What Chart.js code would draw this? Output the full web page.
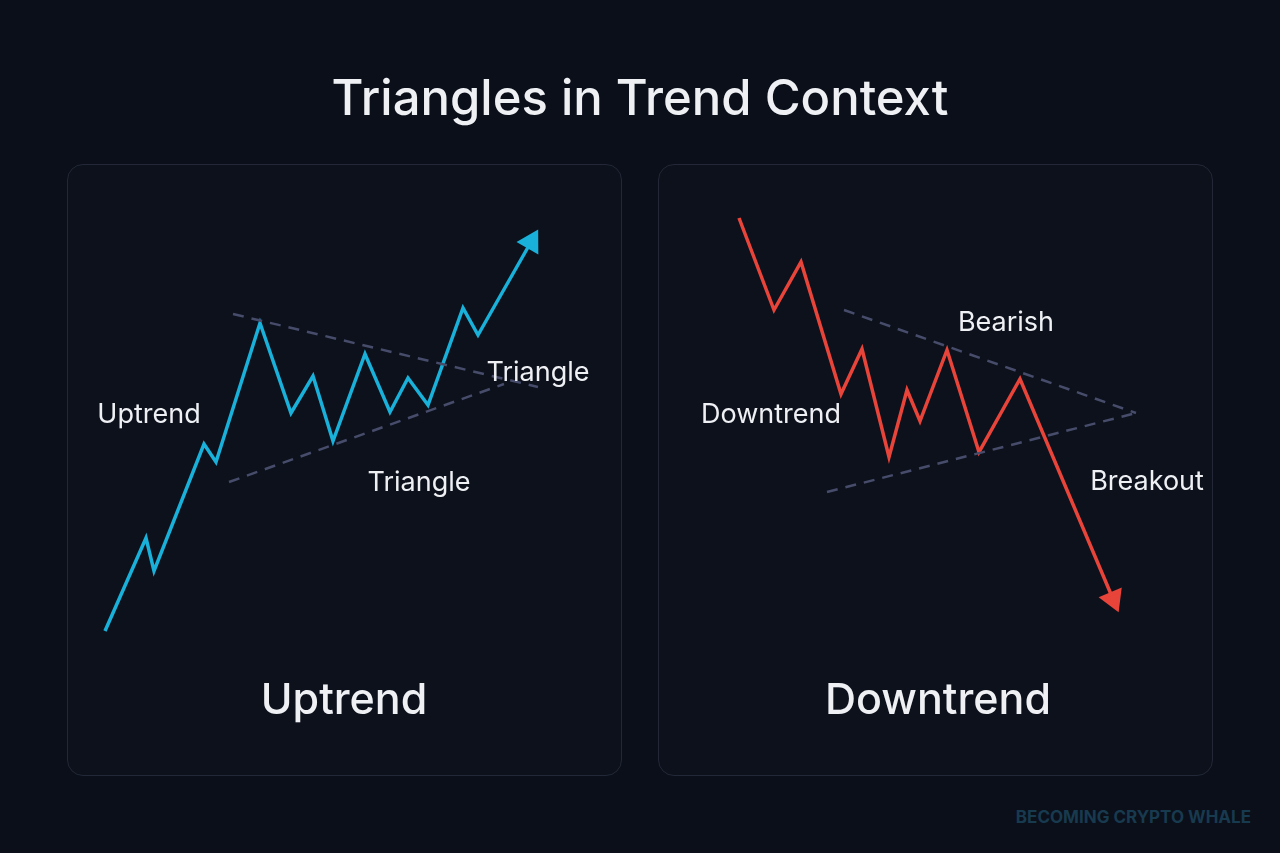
<!DOCTYPE html>
<html><head><meta charset="utf-8">
<script src="https://cdn.jsdelivr.net/npm/chart.js@4"></script>
<style>
body{margin:0;width:1280px;height:853px;background:#0b0f1a;font-family:Inter,"Noto Sans",sans-serif;position:relative;overflow:hidden}
h1{position:absolute;top:68px;left:0;width:1280px;text-align:center;margin:0;color:#eef0f4;font-size:49px;font-weight:500}
.panel{position:absolute;top:164px;width:555px;height:612px;border:1.5px solid #222837;border-radius:16px;box-sizing:border-box;background:#0c111c}
.panel canvas{position:absolute;left:0;top:0}
.wm{position:absolute;right:29px;top:807px;color:#183a4f;font-weight:700;font-size:17px}
</style></head><body>
<h1>Triangles in Trend Context</h1>
<div class="panel" style="left:67px"><canvas id="up" width="555" height="612"></canvas></div>
<div class="panel" style="left:658px"><canvas id="down" width="555" height="612"></canvas></div>
<div class="wm">BECOMING CRYPTO WHALE</div>
<script>
// panel units: x from panel left, y up from panel bottom
const upPrice = [[37,146],[78,239],[86,206],[136,333],[148,315],[192,454],[223,364],[245,401],[265,336],[297,423],[322,365],[340,399],[360,372],[395,469],[410,442],[463,535]];
const upUpper = [[165,463],[470,390]];
const upLower = [[161,295],[436,393]];
const upLabels = [["Uptrend",81,362,27],["Triangle",470,404,27],["Triangle",351,294,27],["Uptrend",276,76,43]];

const downPrice = [[80,559],[115,467],[142,515],[182,383],[203,428],[230,320],[248,387],[261,356],[288,427],[320,325],[361,398],[454,178]];
const downUpper = [[185,467],[477,364]];
const downLower = [[168,285],[477,364]];
const downLabels = [["Bearish",347,454,27],["Downtrend",112,362,27],["Breakout",488,295,27],["Downtrend",279,76,43]];

const labelPlugin = {
  id: 'labels',
  afterDatasetsDraw(chart, args, opts) {
    const c = chart.ctx, sx = chart.scales.x, sy = chart.scales.y;
    c.save();
    c.fillStyle = '#eef0f4'; c.textAlign = 'center'; c.textBaseline = 'middle';
    for (const [t, x, y, s] of opts.items) {
      c.font = (s > 30 ? '500 ' : '400 ') + s + 'px Inter, "Noto Sans", sans-serif';
      c.fillText(t, sx.getPixelForValue(x), sy.getPixelForValue(y));
    }
    c.restore();
  }
};

function pts(a) { return a.map(p => ({x: p[0], y: p[1]})); }

function make(id, price, upper, lower, labels, color) {
  const n = price.length, a = price[n - 2], b = price[n - 1];
  const rot = Math.atan2(b[0] - a[0], b[1] - a[1]) * 180 / Math.PI;
  new Chart(document.getElementById(id), {
    type: 'line',
    data: {datasets: [
      {data: pts(upper), borderColor: '#474c6b', borderWidth: 2.5, borderDash: [11, 8], pointRadius: 0},
      {data: pts(lower), borderColor: '#474c6b', borderWidth: 2.5, borderDash: [11, 8], pointRadius: 0},
      {data: pts(price), borderColor: color, borderWidth: 3.5, tension: 0,
       pointRadius: price.map((p, i) => i === n - 1 ? 11 : 0),
       pointStyle: 'triangle', pointRotation: rot,
       pointBackgroundColor: color, pointBorderColor: color}
    ]},
    options: {
      responsive: false, animation: false,
      layout: {padding: 0, autoPadding: false},
      plugins: {legend: {display: false}, tooltip: {enabled: false}, labels: {items: labels}},
      scales: {
        x: {type: 'linear', min: 0, max: 555, display: false},
        y: {type: 'linear', min: 0, max: 612, display: false}
      }
    },
    plugins: [labelPlugin]
  });
}
make('up', upPrice, upUpper, upLower, upLabels, '#19b0d9');
make('down', downPrice, downUpper, downLower, downLabels, '#e8443a');
</script>
</body></html>
